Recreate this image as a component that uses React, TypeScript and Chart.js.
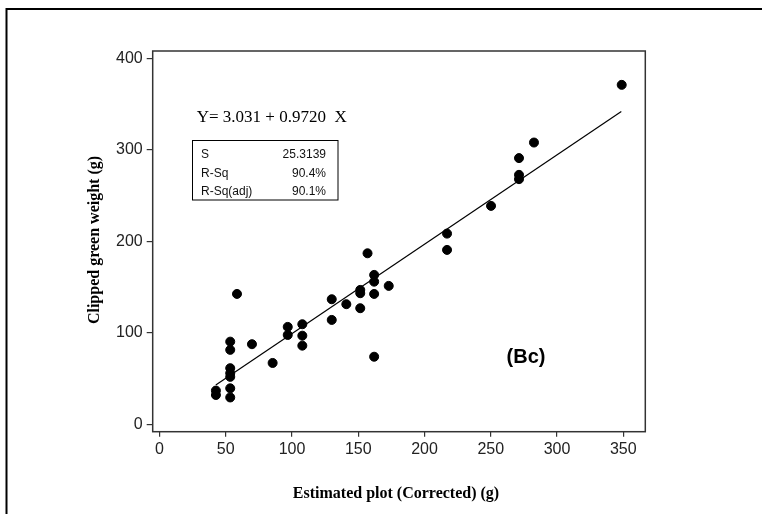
import { useEffect, useRef } from "react";
import { Chart, registerables } from "chart.js";

Chart.register(...registerables);

// Scatter data (x = estimated plot, y = clipped green weight)
const estimatedPlot = [
  42.6, 42.6,
  53.4, 53.4, 53.4, 53.4, 53.4, 53.4, 53.4,
  58.5, 69.8, 85.4,
  96.8, 96.8,
  107.8, 107.8, 107.8,
  130, 130, 141,
  151.5, 151.5, 151.5,
  157,
  162, 162, 162, 162,
  173,
  217, 217,
  250.2,
  271.3, 271.3, 271.3,
  282.6, 348.8,
];
const clippedWeight = [
  37, 32.2,
  90.5, 81.5, 61.5, 56, 52, 39.5, 29.5,
  142.6, 87.7, 67.2,
  106.6, 97.8,
  109.5, 97, 86.1,
  136.8, 114.2, 131.4,
  147, 143.4, 127,
  187,
  163.4, 156, 142.6, 74,
  151.4,
  208.5, 190.7,
  238.8,
  291, 272.7, 268,
  308, 371,
];

// Fitted line end points as drawn
const fitX = [42.5, 348.5];
const fitY = [43, 342];

const xTicks = [0, 50, 100, 150, 200, 250, 300, 350];
const yTicks = [0, 100, 200, 300, 400];

const equationText = "Y= 3.031 + 0.9720  X";
const statLabels = ["S", "R-Sq", "R-Sq(adj)"];
const statValues = ["25.3139", "90.4%", "90.1%"];
const panelLabel = "(Bc)";
const xTitle = "Estimated plot (Corrected) (g)";
const yTitle = "Clipped green weight (g)";

const W = 762;
const H = 514;

const decorPlugin = {
  id: "decor",
  beforeDraw(chart: any) {
    const ctx = chart.ctx;
    ctx.save();
    ctx.fillStyle = "#ffffff";
    ctx.fillRect(0, 0, W, H);
    // outer frame (left and top)
    ctx.strokeStyle = "#000";
    ctx.lineWidth = 2;
    ctx.beginPath();
    ctx.moveTo(6.5, H);
    ctx.lineTo(6.5, 9);
    ctx.lineTo(W, 9);
    ctx.stroke();
    ctx.restore();
  },
  afterDraw(chart: any) {
    const ctx = chart.ctx;
    const a = chart.chartArea;
    ctx.save();
    // plot box
    ctx.strokeStyle = "#333";
    ctx.lineWidth = 1.5;
    ctx.strokeRect(a.left, a.top, a.right - a.left, a.bottom - a.top);

    // regression equation
    ctx.fillStyle = "#000";
    ctx.textAlign = "left";
    ctx.textBaseline = "alphabetic";
    ctx.font = "17px 'Liberation Serif'";
    ctx.fillText(equationText, 196.7, 122.3);

    // stats box
    ctx.strokeStyle = "#000";
    ctx.lineWidth = 1;
    ctx.strokeRect(192.5, 140.5, 145.5, 59.5);
    ctx.font = "12px 'Liberation Sans'";
    ctx.fillStyle = "#111";
    const baselines = [158.3, 176.7, 195];
    statLabels.forEach((lab, i) => {
      ctx.textAlign = "left";
      ctx.fillText(lab, 201, baselines[i]);
      ctx.textAlign = "right";
      ctx.fillText(statValues[i], 326, baselines[i]);
    });

    // panel label
    ctx.fillStyle = "#000";
    ctx.font = "bold 20px 'Liberation Sans'";
    ctx.textAlign = "center";
    ctx.textBaseline = "middle";
    ctx.fillText(panelLabel, 526, 357);

    // axis titles
    ctx.font = "bold 16px 'Liberation Serif'";
    ctx.textAlign = "center";
    ctx.textBaseline = "alphabetic";
    ctx.fillText(xTitle, 396, 498);

    ctx.translate(98.5, 240);
    ctx.rotate(-Math.PI / 2);
    ctx.fillText(yTitle, 0, 0);
    ctx.restore();
  },
};

export default function App() {
  const ref = useRef<HTMLCanvasElement | null>(null);

  useEffect(() => {
    if (!ref.current) return;
    const points = estimatedPlot.map((x, i) => ({ x, y: clippedWeight[i] }));
    const fit = fitX.map((x, i) => ({ x, y: fitY[i] }));
    const tickFont = { family: "'Liberation Sans'", size: 16 };

    const chart = new Chart(ref.current, {
      type: "scatter",
      data: {
        datasets: [
          {
            label: "fit",
            type: "line",
            data: fit,
            borderColor: "#000",
            borderWidth: 1.2,
            pointRadius: 0,
            fill: false,
            order: 2,
          } as any,
          {
            label: "obs",
            data: points,
            backgroundColor: "#000",
            borderColor: "#000",
            borderWidth: 1,
            pointRadius: 4.5,
            order: 1,
          },
        ],
      },
      options: {
        animation: false,
        responsive: false,
        devicePixelRatio: 1,
        layout: { padding: { top: 51, right: W - 645.3, left: 0, bottom: 0 } },
        plugins: {
          legend: { display: false },
          tooltip: { enabled: false },
        },
        scales: {
          x: {
            type: "linear",
            min: -5.1,
            max: 366.6,
            afterBuildTicks: (s: any) => {
              s.ticks = xTicks.map((v) => ({ value: v }));
            },
            afterFit: (s: any) => {
              s.height = H - 431.7;
            },
            ticks: { font: tickFont, color: "#222", padding: 3, maxRotation: 0, autoSkip: false },
            grid: { drawOnChartArea: false, drawTicks: true, tickLength: 5, color: "#333", lineWidth: 1.2 },
            border: { display: false },
          },
          y: {
            type: "linear",
            min: -7.9,
            max: 408,
            afterBuildTicks: (s: any) => {
              s.ticks = yTicks.map((v) => ({ value: v }));
            },
            afterFit: (s: any) => {
              s.width = 152.7;
            },
            ticks: { font: tickFont, color: "#222", padding: 4, autoSkip: false },
            grid: { drawOnChartArea: false, drawTicks: true, tickLength: 6, color: "#333", lineWidth: 1.2 },
            border: { display: false },
          },
        },
      },
      plugins: [decorPlugin],
    });
    return () => chart.destroy();
  }, []);

  return (
    <div style={{ position: "absolute", left: 0, top: 0, width: W, height: H, background: "#fff" }}>
      <canvas ref={ref} width={W} height={H} style={{ width: W, height: H, display: "block" }} />
    </div>
  );
}
